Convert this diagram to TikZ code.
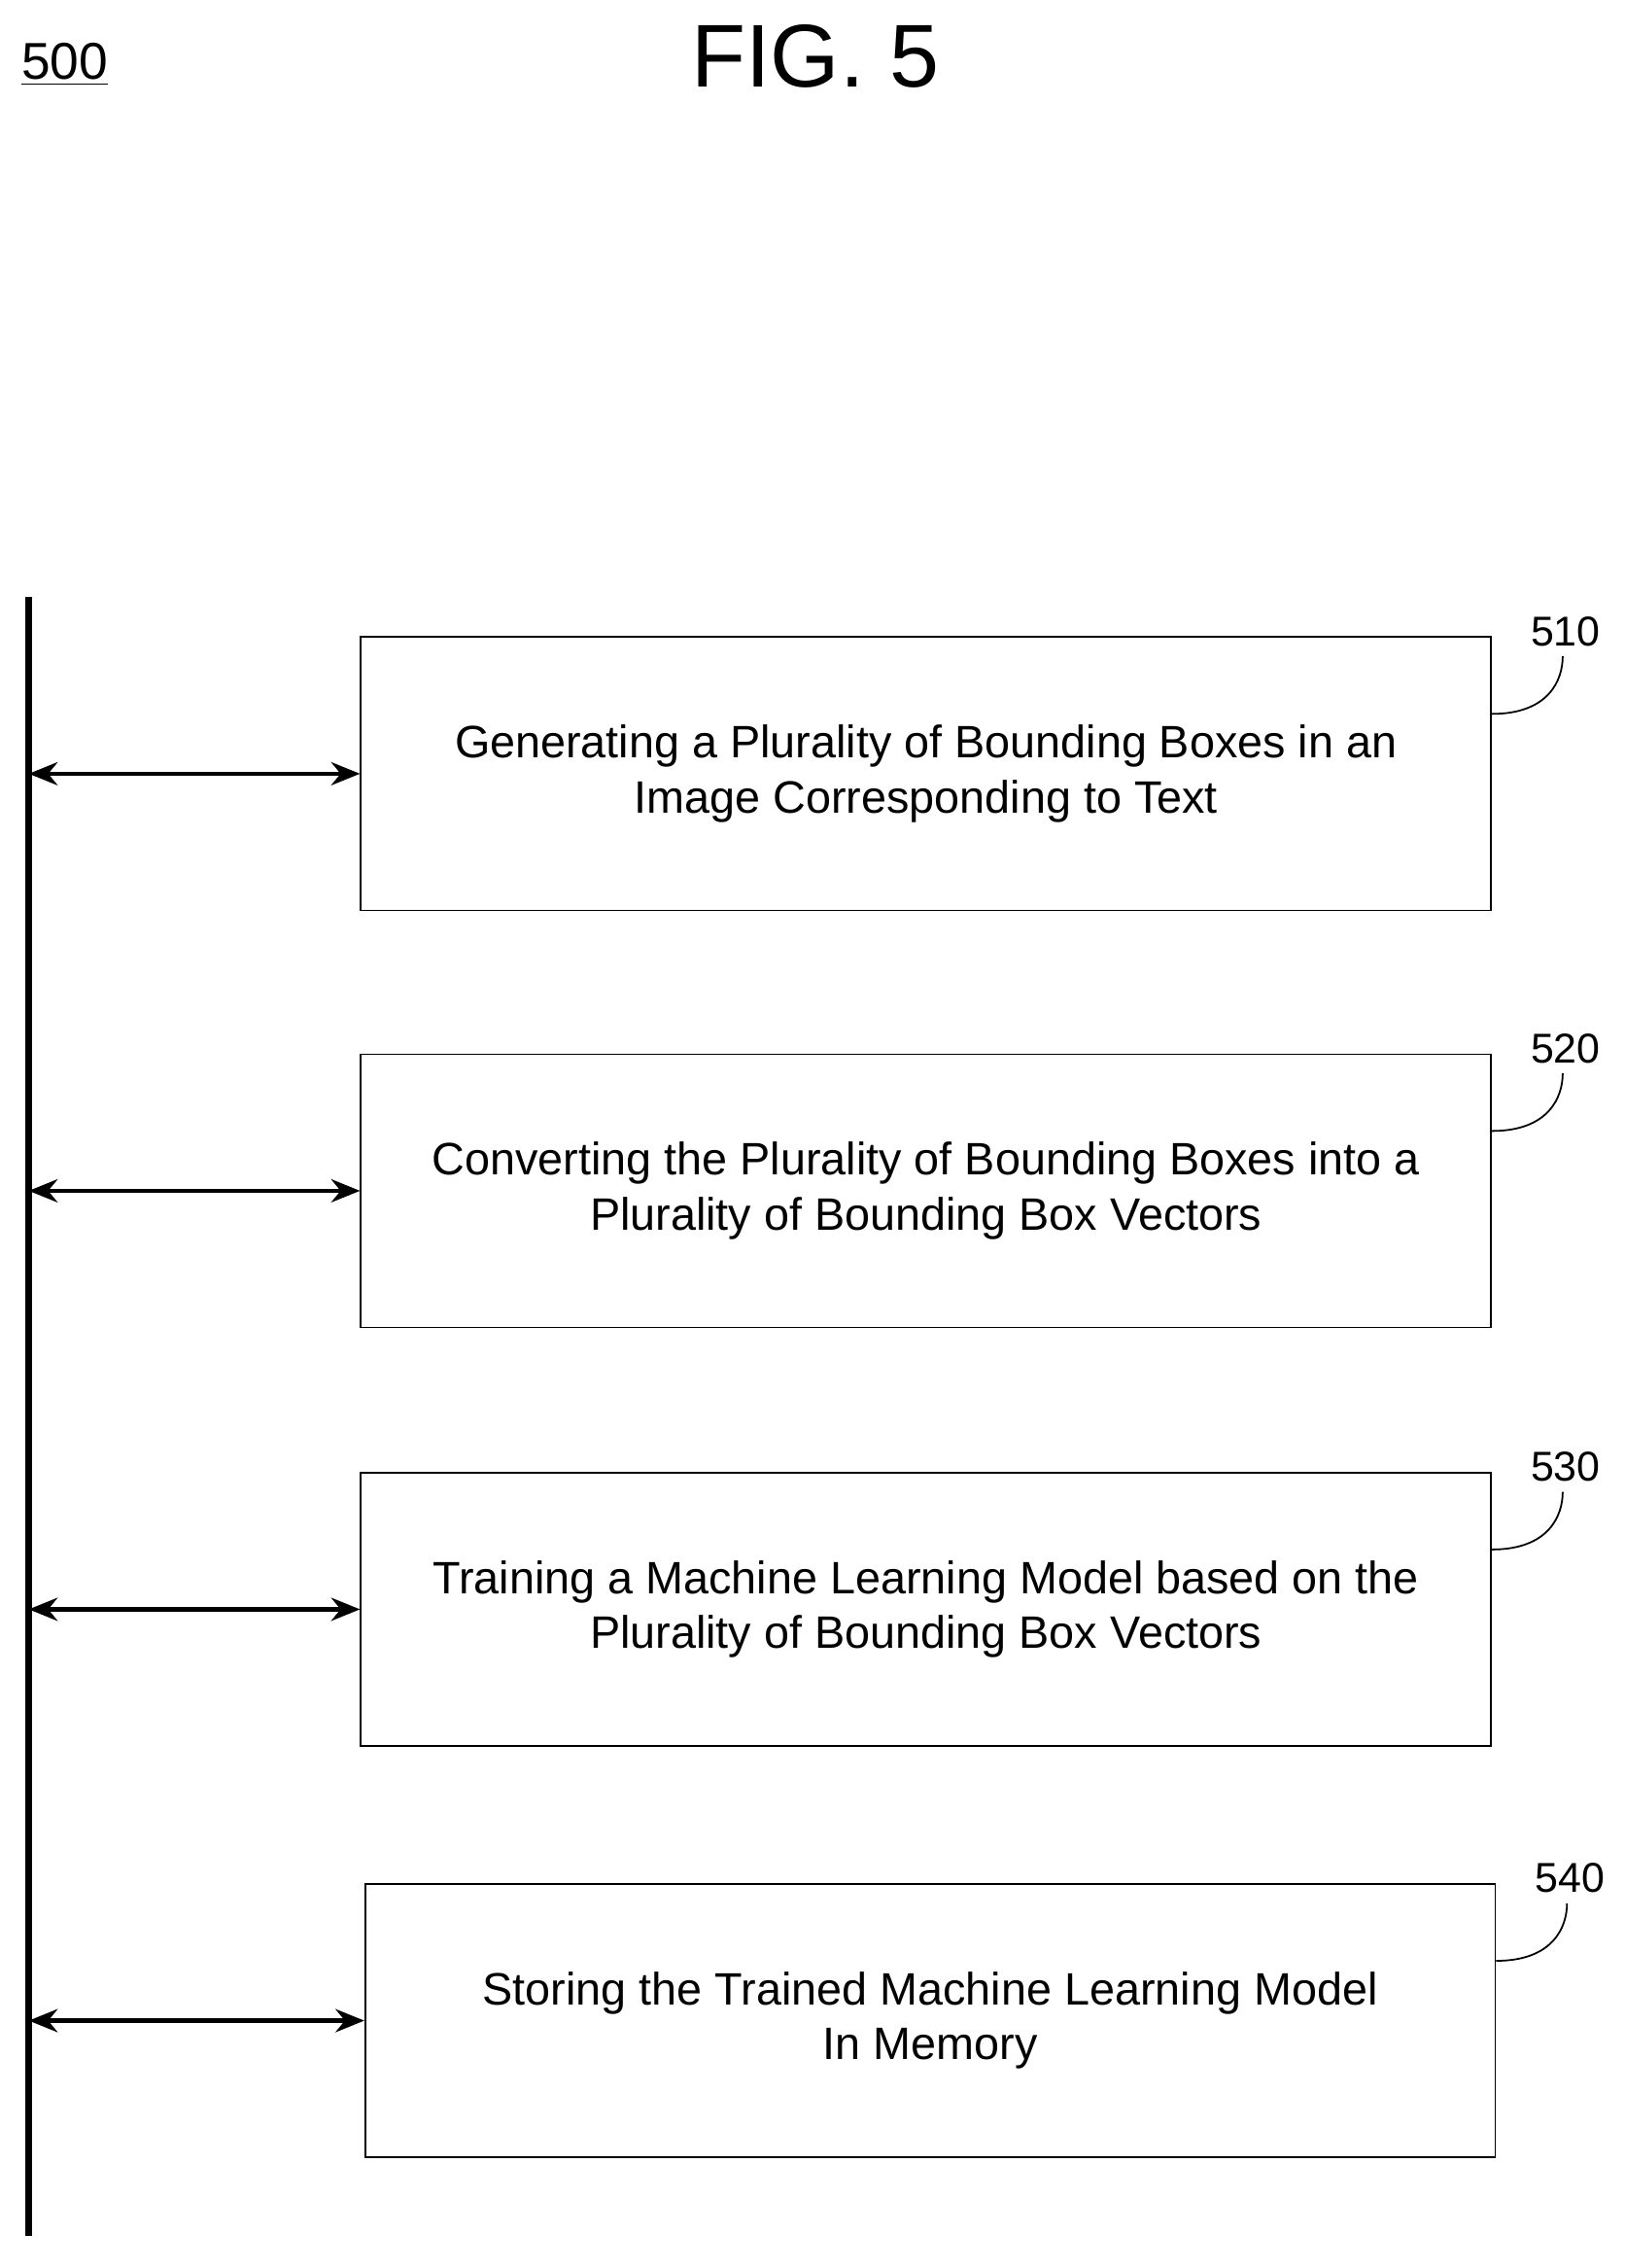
\documentclass[tikz,border=0pt]{standalone}
\usepackage{fontspec}
\setmainfont{Liberation Sans}
\usetikzlibrary{arrows.meta,positioning}
\tikzset{
  stage/.style={draw,line width=0.6pt,minimum width=393pt,minimum height=95pt,align=center,font=\fontsize{15.8}{19}\selectfont},
  link/.style={line width=1.6pt,{Stealth[length=10pt,width=8pt]}-{Stealth[length=10pt,width=8pt]}},
  ref/.style={font=\fontsize{14.5}{16}\selectfont}
}
\begin{document}
\begin{tikzpicture}[x=0.5pt,y=-0.5pt]
  \useasboundingbox (0,0) rectangle (1130,1577);
  \node[font=\fontsize{18}{20}\selectfont] (num) at (45,45) {\underline{500}};
  \node[font=\fontsize{31}{34}\selectfont] (fig) at (567,39) {FIG. 5};
  % bus
  \coordinate (top) at (20,415);
  \coordinate (bot) at (20,1555);
  \draw[line width=2.6pt] (top) -- (bot);
  % steps
  \node[stage] (s1) at (644,538) {Generating a Plurality of Bounding Boxes in an\\Image Corresponding to Text};
  \node[stage] (s2) at (644,828) {Converting the Plurality of Bounding Boxes into a\\Plurality of Bounding Box Vectors};
  \node[stage] (s3) at (644,1119) {Training a Machine Learning Model based on the\\Plurality of Bounding Box Vectors};
  \node[stage] (s4) at (647,1405) {Storing the Trained Machine Learning Model\\In Memory};
  \foreach \s/\n in {s1/510,s2/520,s3/530,s4/540}{
    \coordinate (b\s) at (20,0 |- \s.west);
    \draw[link] (b\s) -- (\s.west);
    \node[ref,anchor=south west] (l\s) at ([xshift=10pt,yshift=-7pt]\s.north east) {\n};
    \draw[line width=0.6pt] ([yshift=-27pt]\s.north east) .. controls +(20pt,0) and +(0,-8pt) .. ([xshift=-1pt]l\s.south);
  }
\end{tikzpicture}
\end{document}
